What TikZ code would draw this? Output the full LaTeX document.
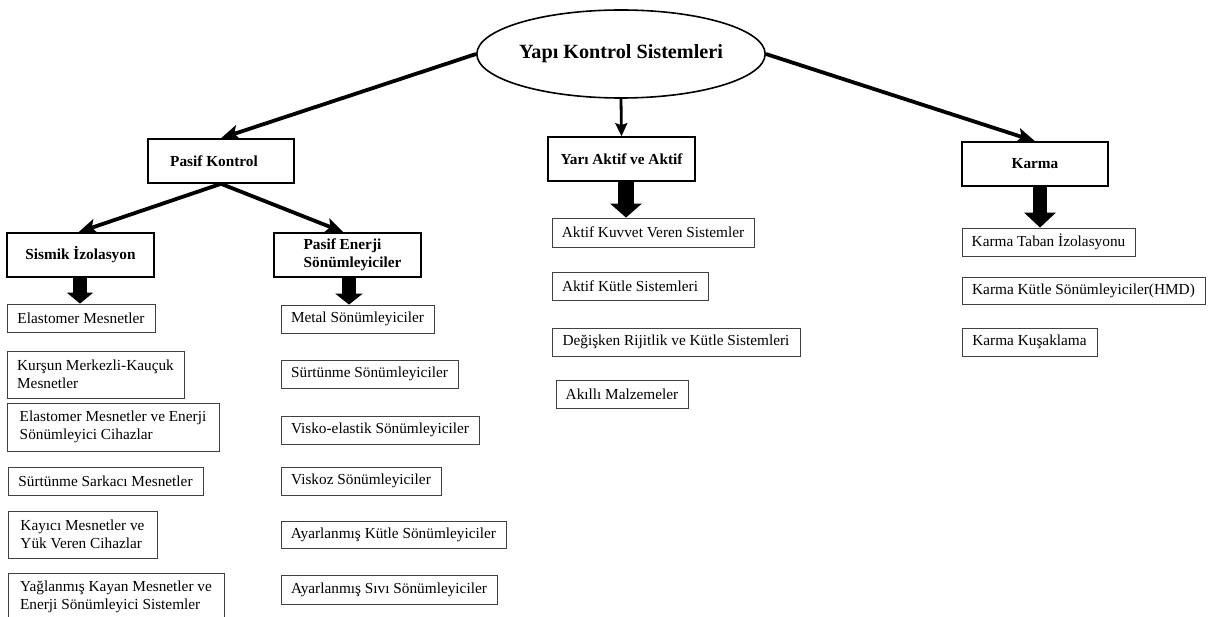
\documentclass[tikz,border=0pt]{standalone}
\usepackage{fontspec}
\setmainfont{Liberation Serif}
\usetikzlibrary{arrows.meta,shapes.geometric}
\begin{document}
\begin{tikzpicture}[x=1pt,y=-1pt,
  leaf/.style={draw=black!75, line width=0.8pt, inner sep=0pt, align=left, font=\fontsize{15.3}{18}\selectfont},
  headbox/.style={draw=black, line width=1.6pt, inner sep=0pt, align=left, font=\fontsize{15.3}{18}\selectfont\bfseries},
  link/.style={line width=3.8pt, -{Stealth[length=18pt 0 0, width=15pt 0 0, inset=4pt 0 0]}},
  vlink/.style={line width=2.8pt, -{Stealth[length=13pt 0 0, width=12pt 0 0, inset=2pt 0 0]}},
  blockarrow/.style={line width=#1},
]
\useasboundingbox (0,0) rectangle (1211,617);
\fill[white] (0,0) rectangle (1211,617);

% root
\node[ellipse, draw, line width=1.6pt, minimum width=232pt, minimum height=88pt, inner sep=0pt,
      font=\fontsize{20.2}{24}\selectfont\bfseries] (root) at (621,54) {Yapı Kontrol Sistemleri};

% level 1
\node[headbox, minimum width=146pt, minimum height=44pt] (pasif) at (221,161) {Pasif Kontrol\hspace*{14pt}};
\node[headbox, minimum width=147pt, minimum height=44pt] (yari) at (621.5,159) {Yarı Aktif ve Aktif};
\node[headbox, minimum width=146pt, minimum height=44pt] (karma) at (1035,164) {Karma};

% level 2
\node[headbox, minimum width=147pt, minimum height=44pt] (sismik) at (80.5,255) {Sismik İzolasyon};
\node[headbox, minimum width=147pt, minimum height=44pt] (penerji) at (347.5,255) {\hspace*{10pt}Pasif Enerji\\\hspace*{10pt}Sönümleyiciler};

% connectors
\draw[link] (root.west) -- (pasif.north);
\draw[link] (root.east) -- (karma.north);
\draw[vlink] (root.south) -- (yari.north);
\draw[link] (pasif.south) -- ([xshift=-2pt]sismik.north);
\draw[link] (pasif.south) -- ([xshift=-4pt]penerji.north);

% left column
\node[leaf, minimum width=148pt, minimum height=28pt] (e1) at (81,318) {Elastomer Mesnetler};
\node[leaf, minimum width=177pt, minimum height=47pt] (e2) at (95.5,374.5) {Kurşun Merkezli-Kauçuk\\Mesnetler};
\node[leaf, minimum width=212pt, minimum height=48pt] (e3) at (113,427) {Elastomer Mesnetler ve Enerji\\Sönümleyici Cihazlar};
\node[leaf, minimum width=195pt, minimum height=28pt] (e4) at (105.5,481) {Sürtünme Sarkacı Mesnetler};
\node[leaf, minimum width=149pt, minimum height=47pt] (e5) at (82.5,534.5) {Kayıcı Mesnetler ve\\Yük Veren Cihazlar};
\node[leaf, minimum width=216pt, minimum height=48pt] (e6) at (116,597) {Yağlanmış Kayan Mesnetler ve\\Enerji Sönümleyici Sistemler};

% middle column
\node[leaf, minimum width=153pt, minimum height=28pt] (m1) at (357.5,319) {Metal Sönümleyiciler};
\node[leaf, minimum width=177pt, minimum height=28pt] (m2) at (369.5,374) {Sürtünme Sönümleyiciler};
\node[leaf, minimum width=198pt, minimum height=28pt] (m3) at (380,430) {Visko-elastik Sönümleyiciler};
\node[leaf, minimum width=160pt, minimum height=28pt] (m4) at (361,481) {Viskoz Sönümleyiciler};
\node[leaf, minimum width=225pt, minimum height=27pt] (m5) at (393.5,534.5) {Ayarlanmış Kütle Sönümleyiciler};
\node[leaf, minimum width=216pt, minimum height=29pt] (m6) at (389,589.5) {Ayarlanmış Sıvı Sönümleyiciler};

% yari column
\node[leaf, minimum width=202pt, minimum height=29pt] (y1) at (653,232.5) {Aktif Kuvvet Veren Sistemler};
\node[leaf, minimum width=156pt, minimum height=28pt] (y2) at (630,286) {Aktif Kütle Sistemleri};
\node[leaf, minimum width=248pt, minimum height=28pt] (y3) at (676,342) {Değişken Rijitlik ve Kütle Sistemleri};
\node[leaf, minimum width=132pt, minimum height=28pt] (y4) at (622,394) {Akıllı Malzemeler};

% karma column
\node[leaf, minimum width=173pt, minimum height=28pt] (k1) at (1048.5,242) {Karma Taban İzolasyonu};
\node[leaf, minimum width=243pt, minimum height=27pt] (k2) at (1083.5,290.5) {Karma Kütle Sönümleyiciler(HMD)};
\node[leaf, minimum width=135pt, minimum height=28pt] (k3) at (1029.5,342) {Karma Kuşaklama};

% block arrows
\draw[blockarrow=14pt, -{Triangle[length=11pt 0 0, width=26pt 0 0]}] ([xshift=-0.5pt]sismik.south) -- ([xshift=-1pt]e1.north);
\draw[blockarrow=14pt, -{Triangle[length=11pt 0 0, width=27pt 0 0]}] ([xshift=1.5pt]penerji.south) -- ([xshift=-8.5pt]m1.north);
\draw[blockarrow=16pt, -{Triangle[length=14pt 0 0, width=31pt 0 0]}] ([xshift=4.5pt]yari.south) -- ([xshift=-27pt]y1.north);
\draw[blockarrow=14pt, -{Triangle[length=15pt 0 0, width=31pt 0 0]}] ([xshift=5pt]karma.south) -- ([xshift=-8.5pt]k1.north);
\end{tikzpicture}
\end{document}
